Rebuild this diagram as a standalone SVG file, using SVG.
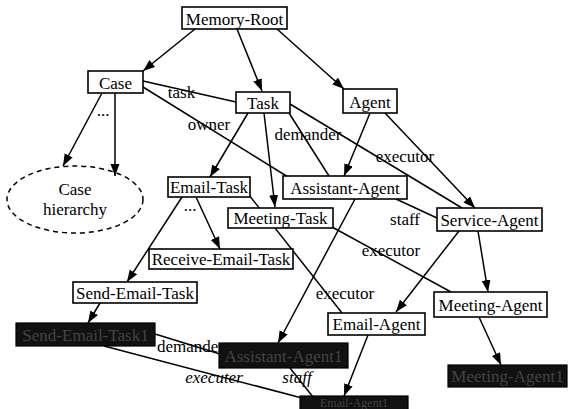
<svg xmlns="http://www.w3.org/2000/svg" width="568" height="409" viewBox="0 0 568 409">
<style>
text{font-family:"Liberation Serif","Times New Roman",serif;font-size:17px;fill:#000}
.n rect{fill:#fff;stroke:#000;stroke-width:1.6}
.n text{text-anchor:middle}
.d rect{fill:#111;stroke:#000;stroke-width:1.2}
.d text{text-anchor:middle;fill:#444}
.c line{stroke:#000;stroke-width:1.5}
.c line.a{marker-end:url(#ah)}
.lbl{text-anchor:middle}
.it{font-style:italic}
</style>
<defs>
<marker id="ah" markerUnits="userSpaceOnUse" markerWidth="13" markerHeight="10" refX="12" refY="4.5" orient="auto">
<path d="M0,0 L12,4.5 L0,9 z" fill="#000"/>
</marker>
</defs>
<rect width="568" height="409" fill="#fff"/>
<g id="connectors" class="c">
<line class="a" x1="195" y1="29" x2="143" y2="71"/>
<line class="a" x1="237" y1="29" x2="262" y2="91"/>
<line class="a" x1="277" y1="29" x2="344" y2="89"/>
<line class="a" x1="102" y1="93" x2="63" y2="166"/>
<line class="a" x1="115" y1="93" x2="115" y2="176"/>
<line x1="143" y1="81" x2="236" y2="102"/>
<line x1="143" y1="87" x2="288" y2="177"/>
<line class="a" x1="248" y1="113" x2="210" y2="177"/>
<line class="a" x1="264" y1="113" x2="275" y2="207"/>
<line x1="289" y1="113" x2="329" y2="176"/>
<line x1="290" y1="104" x2="462" y2="208"/>
<line class="a" x1="370" y1="113" x2="344" y2="176"/>
<line class="a" x1="385" y1="113" x2="475" y2="208"/>
<line class="a" x1="182" y1="197" x2="127" y2="282"/>
<line class="a" x1="196" y1="197" x2="220" y2="249"/>
<line x1="249" y1="195" x2="342" y2="313"/>
<line x1="332" y1="227" x2="451" y2="292"/>
<line x1="396" y1="199" x2="437" y2="218"/>
<line class="a" x1="355" y1="199" x2="278" y2="343"/>
<line class="a" x1="459" y1="231" x2="396" y2="312"/>
<line class="a" x1="478" y1="231" x2="488" y2="292"/>
<line class="a" x1="100" y1="303" x2="88" y2="323"/>
<line x1="155" y1="334" x2="220" y2="354"/>
<line x1="104" y1="346" x2="302" y2="398"/>
<line x1="290" y1="368" x2="313" y2="397"/>
<line class="a" x1="368" y1="335" x2="344" y2="396"/>
<line class="a" x1="479" y1="317" x2="501" y2="365"/>
<text class="lbl" x="181.5" y="98">task</text>
<text class="lbl" x="209" y="130">owner</text>
<text class="lbl" x="308" y="140">demander</text>
<text class="lbl" x="405" y="162">executor</text>
<text class="lbl" x="405" y="225">staff</text>
<text class="lbl" x="391" y="256">executor</text>
<text class="lbl" x="345" y="299">executor</text>
<text x="157" y="352">demander</text>
<text class="lbl it" x="214" y="383">executer</text>
<text class="lbl it" x="297" y="383">staff</text>
<text class="lbl" x="103" y="116">...</text>
<text class="lbl" x="190" y="211">...</text>
</g>
<g id="case-hierarchy">
<ellipse cx="75" cy="199.5" rx="68" ry="33.5" fill="none" stroke="#000" stroke-width="1.5" stroke-dasharray="5,4"/>
<text x="75" y="195" text-anchor="middle">Case</text>
<text x="75" y="215" text-anchor="middle">hierarchy</text>
</g>
<g id="memory-root" class="n"><rect x="182" y="7" width="105" height="22"/><text x="234.5" y="25">Memory-Root</text></g>
<g id="case" class="n"><rect x="88" y="71" width="55" height="22"/><text x="115.5" y="89">Case</text></g>
<g id="task" class="n"><rect x="236" y="92" width="54" height="21"/><text x="263" y="109">Task</text></g>
<g id="agent" class="n"><rect x="343" y="89" width="54" height="24"/><text x="370" y="108">Agent</text></g>
<g id="email-task" class="n"><rect x="168" y="177" width="82" height="20"/><text x="209" y="193">Email-Task</text></g>
<g id="assistant-agent" class="n"><rect x="283" y="176" width="124" height="23"/><text x="345" y="194">Assistant-Agent</text></g>
<g id="meeting-task" class="n"><rect x="228" y="208" width="105" height="20"/><text x="280.5" y="224">Meeting-Task</text></g>
<g id="service-agent" class="n"><rect x="437" y="208" width="105" height="23"/><text x="489.5" y="226">Service-Agent</text></g>
<g id="receive-email-task" class="n"><rect x="149" y="249" width="144" height="20"/><text x="221" y="265">Receive-Email-Task</text></g>
<g id="send-email-task" class="n"><rect x="73" y="282" width="124" height="21"/><text x="135" y="299">Send-Email-Task</text></g>
<g id="meeting-agent" class="n"><rect x="434" y="292" width="113" height="25"/><text x="490.5" y="311">Meeting-Agent</text></g>
<g id="email-agent" class="n"><rect x="328" y="313" width="97" height="22"/><text x="376.5" y="330">Email-Agent</text></g>
<g id="send-email-task-1" class="d"><rect x="16" y="323" width="139" height="23"/><text x="85.5" y="341">Send-Email-Task1</text></g>
<g id="assistant-agent-1" class="d"><rect x="219" y="343" width="129" height="25"/><text x="283.5" y="362">Assistant-Agent1</text></g>
<g id="email-agent-1" class="d"><rect x="300" y="396" width="108" height="14"/><text x="354" y="407" style="font-size:12px">Email-Agent1</text></g>
<g id="meeting-agent-1" class="d"><rect x="448" y="365" width="119" height="22"/><text x="507.5" y="382">Meeting-Agent1</text></g>
</svg>
